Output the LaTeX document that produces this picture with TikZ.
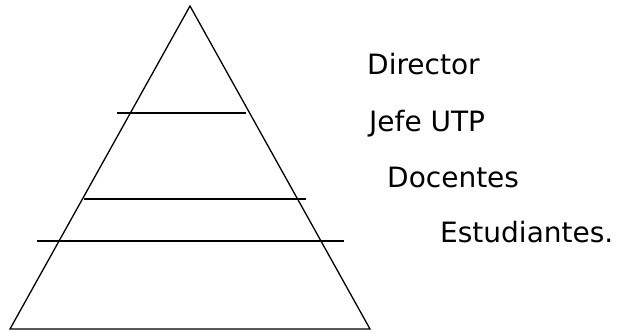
\documentclass[tikz,border=0pt]{standalone}
\usepackage{fontspec}
\setmainfont{DejaVu Sans}
\begin{document}
\begin{tikzpicture}[x=1pt,y=1pt,
  edge/.style={line width=1.3pt, black},
  lbl/.style={anchor=base west, inner sep=0pt, font=\fontsize{28}{32}\selectfont}]
\useasboundingbox (0,0) rectangle (618,332);
% triangle
\coordinate (apex) at (190,326);
\coordinate (bl) at (10,3);
\coordinate (br) at (370,3);
\draw[edge, line join=miter] (bl) -- (apex) -- (br) -- cycle;
% level lines
\coordinate (l1a) at (117,219); \coordinate (l1b) at (246,219);
\coordinate (l2a) at (84,133);  \coordinate (l2b) at (306,133);
\coordinate (l3a) at (37,91);   \coordinate (l3b) at (344,91);
\draw[edge] (l1a) -- (l1b);
\draw[edge] (l2a) -- (l2b);
\draw[edge] (l3a) -- (l3b);
% labels
\node[lbl] (director) at (367,257) {Director};
\node[lbl] (jefe) at (369,200) {Jefe UTP};
\node[lbl] (docentes) at (387,144) {Docentes};
\node[lbl] (estudiantes) at (440,89) {Estudiantes.};
\end{tikzpicture}
\end{document}
